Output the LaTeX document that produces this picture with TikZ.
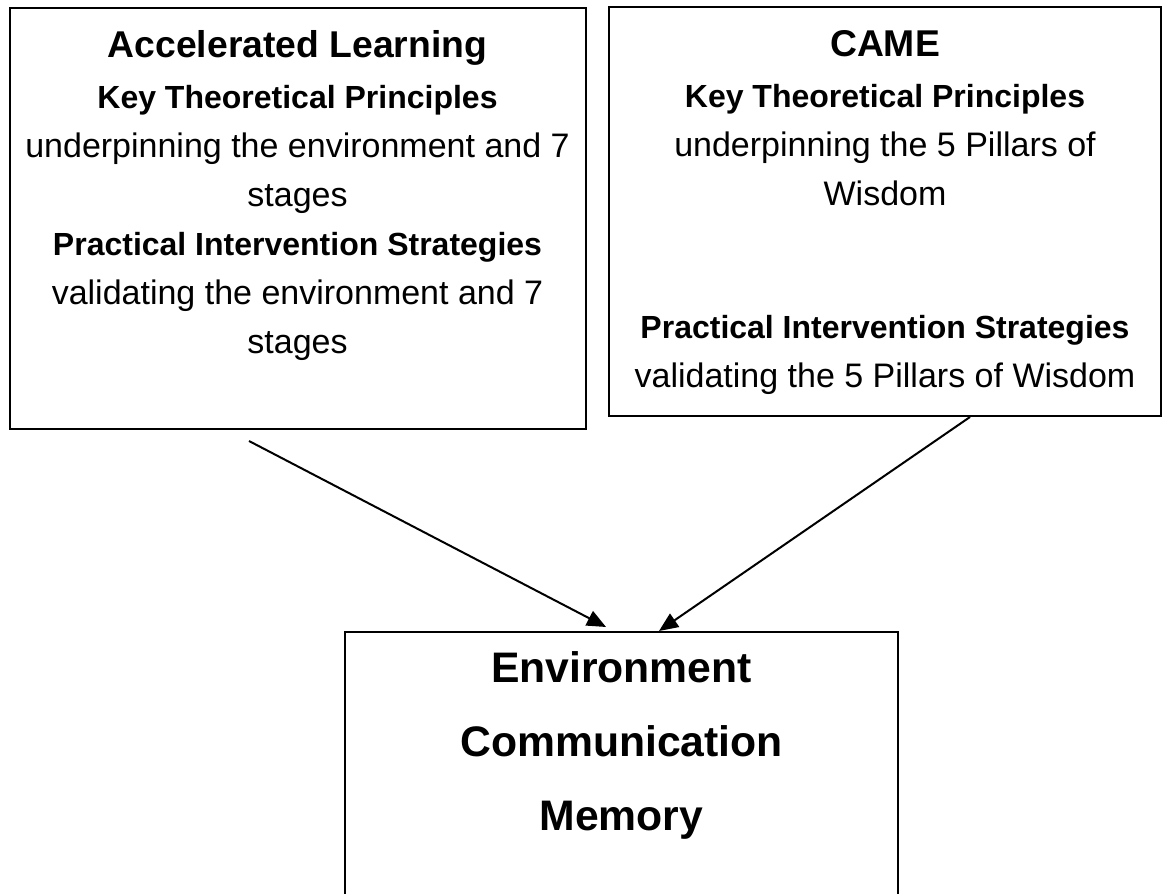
\documentclass[tikz,border=0pt]{standalone}
\usepackage{fontspec}
\setmainfont{Liberation Sans}
\usetikzlibrary{positioning, arrows.meta}

\newcommand{\boxtitle}[1]{{\fontsize{37.3}{40}\selectfont\bfseries #1}}
\newcommand{\subhead}[1]{{\fontsize{32}{49}\selectfont\bfseries #1}}

\tikzset{
	block/.style = {draw, line width = 2pt, inner sep = 0pt},
	boxtext/.style = {align = center, inner sep = 0pt, font = \fontsize{34}{49}\selectfont},
	bigtext/.style = {align = center, inner sep = 0pt, font = \fontsize{42.7}{74}\selectfont\bfseries},
	conn/.style = {-{Triangle[length = 19pt, width = 16pt]}, line width = 2pt}
}

\begin{document}
\begin{tikzpicture}[x = 1pt, y = 1pt]
				\useasboundingbox (0, 0) rectangle (1162, 894);
				\clip (0, 0) rectangle (1162, 894);
				% the three boxes
				\node[block, anchor = north west, minimum width = 576pt, minimum height = 421pt] (al) at (8.5, 887) {};
				\node[block, anchor = north west, minimum width = 552pt, minimum height = 409pt] (came) at (608, 888) {};
				\node[block, anchor = north west, minimum width = 553pt, minimum height = 350pt] (ecm) at (344, 263) {};
				% their texts
				\node[boxtext, below = 23pt of al.north] (altext) {\boxtitle{Accelerated Learning}\\[2pt]
					\subhead{Key Theoretical Principles}\\
					underpinning the environment and 7\\
					stages\\
					\subhead{Practical Intervention Strategies}\\
					validating the environment and 7\\
					stages};
				\node[boxtext, below = 24pt of came.north] (cametext) {\boxtitle{CAME}\\[2pt]
					\subhead{Key Theoretical Principles}\\
					underpinning the 5 Pillars of\\
					Wisdom\\[84pt]
					\subhead{Practical Intervention Strategies}\\
					validating the 5 Pillars of Wisdom};
				\node[bigtext, below = 20pt of ecm.north] (ecmtext) {Environment\\Communication\\Memory};
				% arrows
				\draw[conn] ([xshift = -48.5pt, yshift = -11pt]al.south) -- ([xshift = -15.5pt, yshift = 4pt]ecm.north);
				\draw[conn] ([xshift = 85pt]came.south) -- ([xshift = 37.5pt]ecm.north);
			\end{tikzpicture}
\end{document}
